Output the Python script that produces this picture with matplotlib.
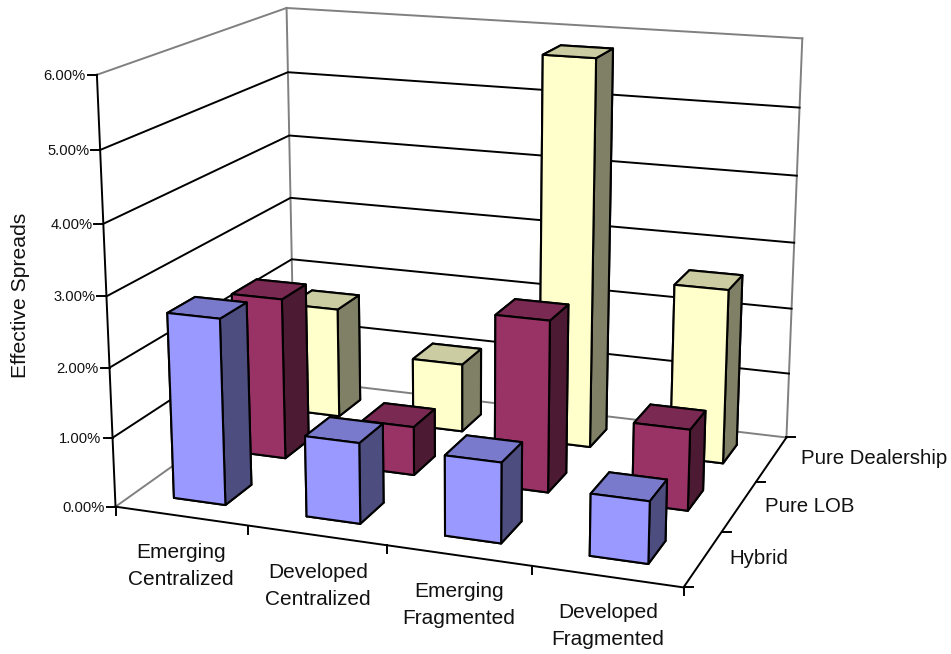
import matplotlib
matplotlib.use("Agg")
import matplotlib.pyplot as plt
import numpy as np
from mpl_toolkits.mplot3d import proj3d

categories = ["Emerging\nCentralized", "Developed\nCentralized", "Emerging\nFragmented", "Developed\nFragmented"]
markets = ["Hybrid", "Pure LOB", "Pure Dealership"]
hybrid = [2.67, 1.15, 1.13, 0.86]
pure_lob = [2.4, 0.72, 2.5, 1.17]
pure_dealership = [1.7, 1.05, 5.79, 2.6]
pct_ticks = [0, 1, 2, 3, 4, 5, 6]

# front, side and top shades per series
series_colors = [
    ("#9999FF", "#4D4D80", "#7A7ACC"),
    ("#993366", "#4D1A33", "#7A2952"),
    ("#FFFFCC", "#808066", "#CCCCA3"),
]
series_values = [hybrid, pure_lob, pure_dealership]

plt.rcParams["font.family"] = ["Liberation Sans", "DejaVu Sans"]

W, H = 951, 654
GREY = "#808080"
fig = plt.figure(figsize=(W / 100, H / 100), dpi=100)
ax = fig.add_axes([48.77 / W, -30.6 / H, 810.5 / W, 810.5 / H], projection="3d")
ax.computed_zorder = False
ax.set_xlim(0, 4)
ax.set_ylim(0, 3)
ax.set_zlim(0, 6)
ax.view_init(elev=15.4, azim=-69.86, roll=-0.012)
ax.set_proj_type("persp", focal_length=0.5219)
ax.set_box_aspect((1.3368, 0.991, 1))
ax.set_axis_off()

# walls: grey frame, black gridlines
for xs, ys, zs in [
    ([0, 0], [0, 3], [6, 6]), ([0, 4], [3, 3], [6, 6]),
    ([0, 0], [3, 3], [0, 6]), ([4, 4], [3, 3], [0, 6]),
    ([0, 0], [0, 3], [0, 0]), ([0, 4], [3, 3], [0, 0]),
]:
    ax.plot(xs, ys, zs, color=GREY, lw=1.4, zorder=1)
for z in pct_ticks[1:-1]:
    ax.plot([0, 0, 4], [0, 3, 3], [z, z, z], color="black", lw=1.4, zorder=2)
ax.plot([0, 0], [0, 0], [0, 6], color="black", lw=1.4, zorder=3)
ax.plot([0, 4, 4], [0, 0, 3], [0, 0, 0], color="black", lw=1.4, zorder=3)

# bars, back row first so nearer ones paint over
bar_w, bar_d = 0.393, 0.42
for j in range(2, -1, -1):
    front, side, top = series_colors[j]
    for i, v in enumerate(series_values[j]):
        ax.bar3d(i + 0.495 - bar_w / 2, j + 0.5 - bar_d / 2, 0, bar_w, bar_d, v,
                 color=[top, top, front, front, side, side], shade=False,
                 edgecolor="black", linewidth=1.5, zorder=10 + (2 - j) * 10 + i)

# flat layer in pixel coordinates for tick marks and labels
over = fig.add_axes([0, 0, 1, 1], zorder=5)
over.set_xlim(0, W)
over.set_ylim(H, 0)
over.axis("off")
over.patch.set_alpha(0)


def to_pixels(x, y, z):
    ax.apply_aspect()
    tx, ty, _ = proj3d.proj_transform(x, y, z, ax.get_proj())
    dx, dy = ax.transData.transform((float(tx), float(ty)))
    return dx, H - dy


for z in pct_ticks:
    px, py = to_pixels(0, 0, z)
    over.plot([px - 9, px], [py, py], color="black", lw=1.4)
    over.text(px - 11, py + 1, f"{z:.2f}%", ha="right", va="center", fontsize=10.6, color="#111111")
for i in range(5):
    px, py = to_pixels(i, 0, 0)
    over.plot([px, px], [py, py + 8], color="black", lw=1.4)
for j in range(4):
    px, py = to_pixels(4, j, 0)
    over.plot([px, px + 9], [py, py], color="black", lw=1.4)

cat_pos = [(181, 566), (318, 586), (459, 605), (608, 626)]
for label, (cx, cy) in zip(categories, cat_pos):
    over.text(cx, cy, label, ha="center", va="center", fontsize=15, linespacing=1.5, color="#111111")
mkt_pos = [(729, 558), (765, 506), (801, 459)]
for label, (lx, ly) in zip(markets, mkt_pos):
    over.text(lx, ly, label, ha="left", va="center", fontsize=14.7, color="#111111")
over.text(21, 295, "Effective Spreads", rotation=90, ha="center", va="center", fontsize=15.2, color="#111111")

fig.savefig("out.png", dpi=100)
